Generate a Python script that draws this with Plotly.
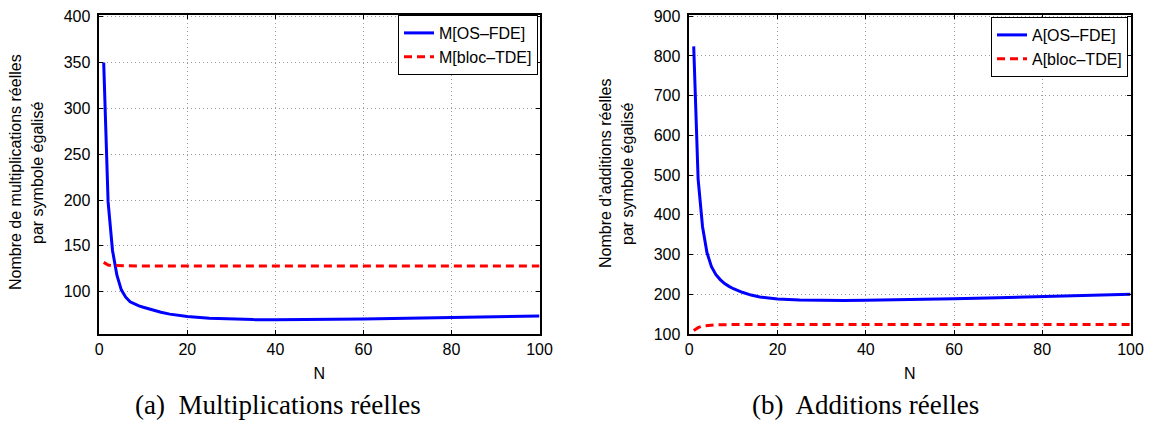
import plotly.graph_objects as go

# ---- data ----
n_values = [1, 2, 3, 4, 5, 6, 7, 8, 9, 10, 12, 14, 16, 18, 20, 25, 30, 35, 40, 50, 60, 70, 80, 90, 100]

m_os_fde = [350, 198, 145, 118, 102, 94, 89, 86.5, 84.5, 83, 80, 77.5, 75.5, 74, 72.8, 71, 70, 69.5, 69.3, 69.5, 70.2, 71, 71.8, 72.6, 73.5]
m_bloc_tde = [132, 129, 128.5, 128.3, 128.2, 128.1, 128, 128, 128, 128, 128, 128, 128, 128, 128, 128, 128, 128, 128, 128, 128, 128, 128, 128, 128]

a_os_fde = [824, 490, 370, 305, 270, 250, 237, 227, 220, 214, 205, 198, 193, 190, 188, 185.5, 184.5, 184.5, 185, 186.5, 189, 191.5, 194.5, 197, 200]
a_bloc_tde = [109, 116, 120, 121.5, 122.5, 123, 123.5, 123.7, 123.8, 124, 124, 124, 124, 124, 124, 124, 124, 124, 124, 124, 124, 124, 124, 124, 124]

x_ticks = [0, 20, 40, 60, 80, 100]
m_ticks = [100, 150, 200, 250, 300, 350, 400]
a_ticks = [100, 200, 300, 400, 500, 600, 700, 800, 900]

names_m = ["M[OS–FDE]", "M[bloc–TDE]"]
names_a = ["A[OS–FDE]", "A[bloc–TDE]"]
ytitle_m = ["Nombre de multiplications réelles", "par symbole égalisé"]
ytitle_a = ["Nombre d’additions réelles", "par symbole égalisé"]
captions = ["(a)  Multiplications réelles", "(b)  Additions réelles"]

# The page body keeps its default 8px margin, so the figure is 16px smaller
# than the 1154x430 window; page positions below are converted accordingly.
PAGE_W, PAGE_H = 1154, 430
BODY = 8
W, H = PAGE_W - 2 * BODY, PAGE_H - 2 * BODY
SANS = "Liberation Sans, Arial, Helvetica, sans-serif"
SERIF = "Liberation Serif, Times New Roman, serif"


def px_x(p):
    return (p - BODY) / W


def px_y(p):
    return 1 - (p - BODY) / H


fig = go.Figure()

blue = dict(color="#0000ff", width=3)
red = dict(color="#ff0000", width=3, dash="8px,5px")

fig.add_trace(go.Scatter(x=n_values, y=m_os_fde, mode="lines", name=names_m[0], line=blue,
                         xaxis="x", yaxis="y", legend="legend"))
fig.add_trace(go.Scatter(x=n_values, y=m_bloc_tde, mode="lines", name=names_m[1], line=red,
                         xaxis="x", yaxis="y", legend="legend"))
fig.add_trace(go.Scatter(x=n_values, y=a_os_fde, mode="lines", name=names_a[0], line=blue,
                         xaxis="x2", yaxis="y2", legend="legend2"))
fig.add_trace(go.Scatter(x=n_values, y=a_bloc_tde, mode="lines", name=names_a[1], line=red,
                         xaxis="x2", yaxis="y2", legend="legend2"))

axis_common = dict(
    showline=True, linecolor="black", linewidth=1.5, mirror="ticks",
    ticks="inside", ticklen=4, tickwidth=1, tickcolor="black",
    showgrid=True, gridcolor="#9a9a9a", gridwidth=1, griddash="1px,3px",
    zeroline=False, automargin=False, ticklabeloverflow="allow",
    tickfont=dict(family=SANS, size=16, color="black"),
)

ydom = [px_y(334), px_y(15)]

fig.update_layout(
    width=W, height=H,
    margin=dict(l=0, r=0, t=0, b=0, pad=0),
    paper_bgcolor="white", plot_bgcolor="white",
    font=dict(family=SANS, size=16, color="black"),
    xaxis=dict(domain=[px_x(99.3), px_x(539.5)], range=[0, 100], tickvals=x_ticks,
               anchor="y", title=dict(text="N", standoff=11, font=dict(family=SANS, size=16)),
               **axis_common),
    yaxis=dict(domain=ydom, range=[53.8, 402], tickvals=m_ticks, anchor="x",
               ticklabelstandoff=4, **axis_common),
    xaxis2=dict(domain=[px_x(689.3), px_x(1130.5)], range=[0, 100], tickvals=x_ticks,
                anchor="y2", title=dict(text="N", standoff=11, font=dict(family=SANS, size=16)),
                **axis_common),
    yaxis2=dict(domain=ydom, range=[100, 903], tickvals=a_ticks, anchor="x2",
                ticklabelstandoff=4, **axis_common),
    legend=dict(x=px_x(398), y=px_y(15), xanchor="left", yanchor="top",
                bgcolor="white", bordercolor="black", borderwidth=1,
                font=dict(family=SANS, size=16), tracegroupgap=0),
    legend2=dict(x=px_x(991), y=px_y(17), xanchor="left", yanchor="top",
                 bgcolor="white", bordercolor="black", borderwidth=1,
                 font=dict(family=SANS, size=16), tracegroupgap=0),
    showlegend=True,
)


def vlabel(text, xc, yc):
    return dict(text=text, x=px_x(xc), y=px_y(yc), xref="paper", yref="paper",
                textangle=-90, showarrow=False, xanchor="center", yanchor="middle",
                font=dict(family=SANS, size=16, color="black"))


annotations = [
    vlabel(ytitle_m[0], 15, 172),
    vlabel(ytitle_m[1], 37, 173),
    vlabel(ytitle_a[0], 605, 174),
    vlabel(ytitle_a[1], 627, 174),
    dict(text=captions[0], x=px_x(278), y=px_y(421), xref="paper", yref="paper",
         showarrow=False, xanchor="center", yanchor="bottom", borderpad=0,
         font=dict(family=SERIF, size=27, color="black")),
    dict(text=captions[1], x=px_x(865), y=px_y(421), xref="paper", yref="paper",
         showarrow=False, xanchor="center", yanchor="bottom", borderpad=0,
         font=dict(family=SERIF, size=27, color="black")),
]
fig.update_layout(annotations=annotations)

fig.write_html("out.html", config={"displayModeBar": False})
